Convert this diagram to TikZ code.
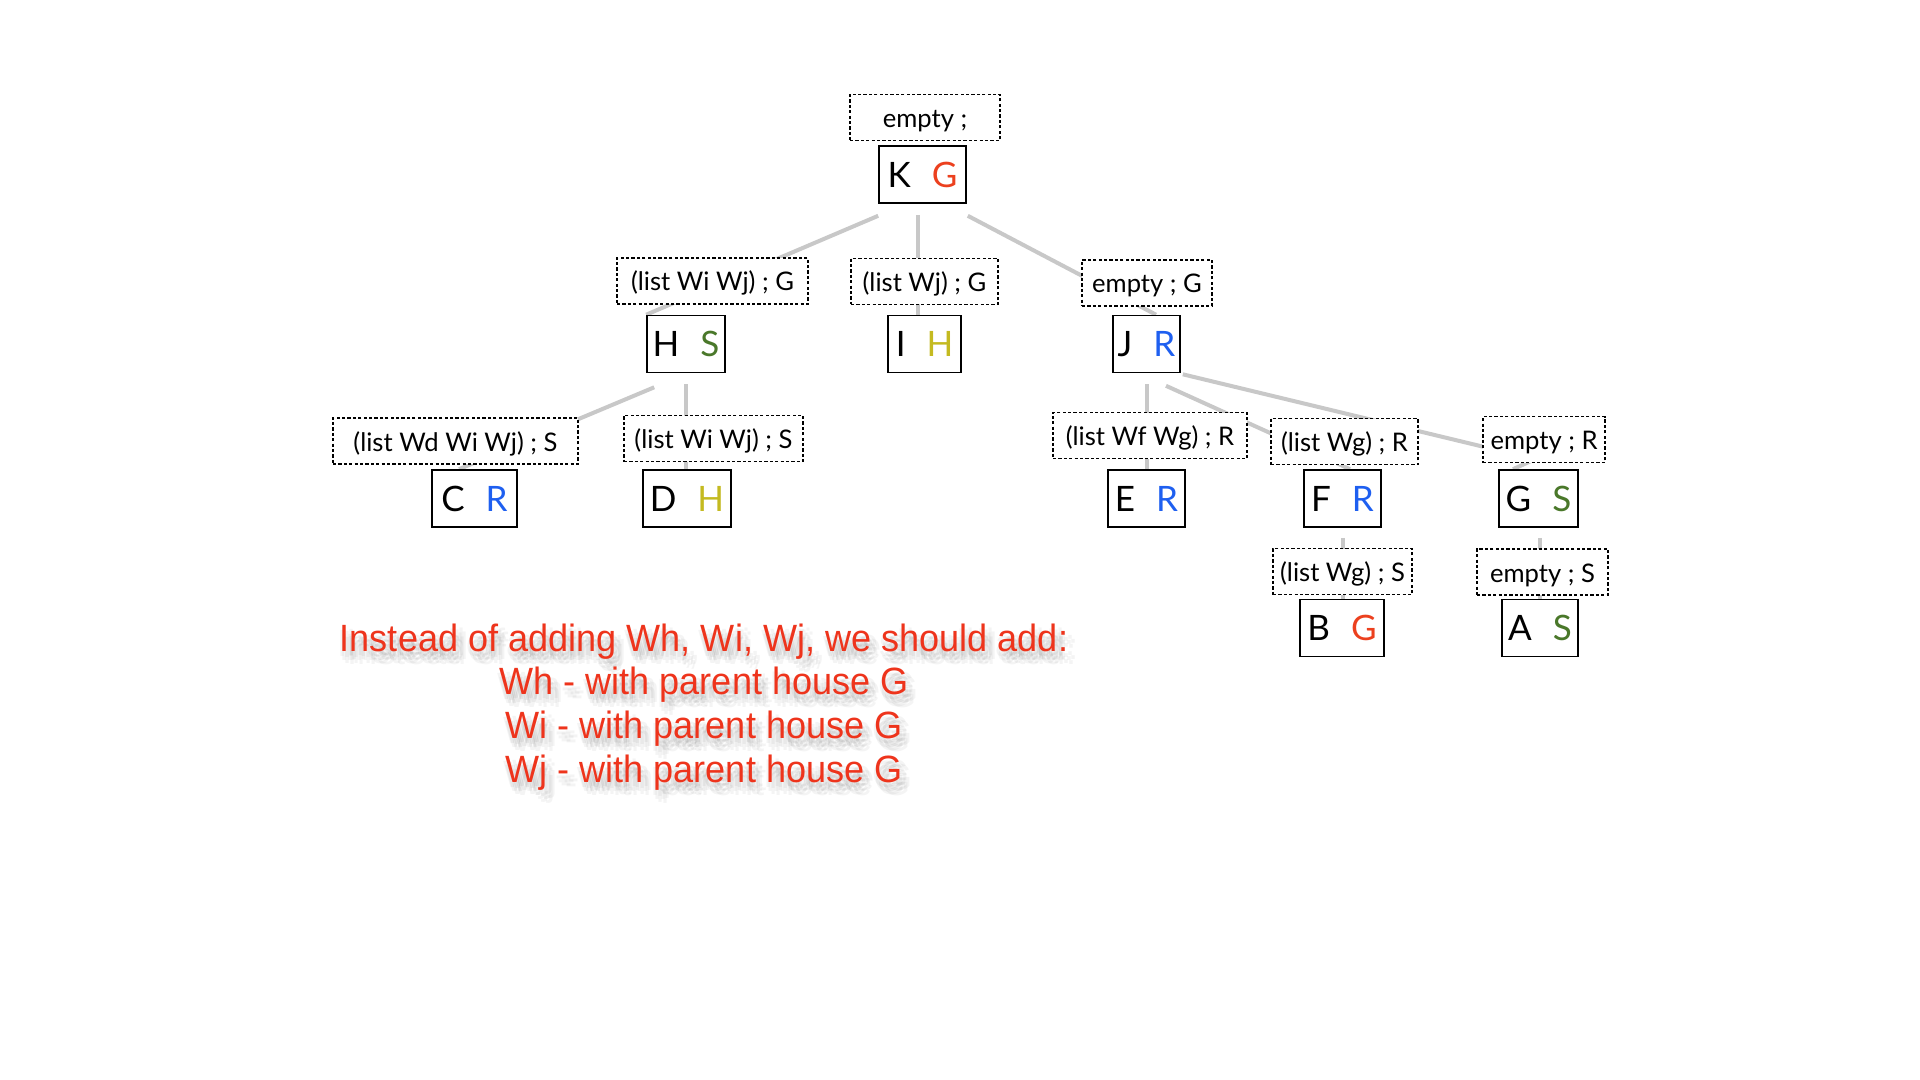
\documentclass[tikz,border=0pt]{standalone}
\usepackage{fontspec}
\usetikzlibrary{calc}
\newfontfamily\labfamily{Lato}
\newfontfamily\notefamily[FakeStretch=0.95]{Liberation Sans}
\definecolor{cRed}{RGB}{236,64,30}
\definecolor{cBlue}{RGB}{30,95,240}
\definecolor{cOlive}{RGB}{196,186,32}
\definecolor{cGreen}{RGB}{74,120,42}
\definecolor{cNote}{RGB}{238,52,28}
\definecolor{edgegray}{RGB}{200,200,200}
\newcommand\hpair[3]{#1\hspace{0.6em}{\color{#2}#3}}
\newcommand\notetext{Instead of adding Wh, Wi, Wj, we should add:\\Wh - with parent house G\\Wi - with parent house G\\Wj - with parent house G}
\pgfdeclarelayer{bg}
\pgfsetlayers{bg,main}
\begin{document}
\begin{tikzpicture}[x=0.5pt,y=-0.5pt,
  lab/.style={draw, dash pattern=on 1.6pt off 1.1pt, line width=0.7pt, fill=white,
    font=\labfamily\fontsize{12.8}{14}\selectfont, inner sep=0pt, minimum height=23pt,
    text height=12pt, text depth=2pt},
  hbox/.style={draw, line width=0.8pt, fill=white,
    font=\labfamily\fontsize{17.5}{19}\selectfont, inner sep=0pt, minimum height=28.5pt},
  edge/.style={draw=edgegray, line width=2pt},
  note/.style={align=center, font=\notefamily\fontsize{19}{21.85}\selectfont, inner sep=0pt},
  shadow/.style={note, text=black, text opacity=0.045}]
\begin{pgfonlayer}{bg}
\useasboundingbox[fill=white] (0,0) rectangle (1920,1080);
\end{pgfonlayer}

% labels
\node[lab,minimum width=75pt]   (LK) at (925,117.5) {empty ;};
\node[lab,minimum width=95.5pt] (LH) at (712.5,281) {(list Wi Wj) ; G};
\node[lab,minimum width=73.5pt] (LI) at (924.5,281.5) {(list Wj) ; G};
\node[lab,minimum width=65pt]   (LJ) at (1147,283) {empty ; G};
\node[lab,minimum width=122.5pt](LC) at (455.5,441) {(list Wd Wi Wj) ; S};
\node[lab,minimum width=89.5pt] (LD) at (713.5,438.5) {(list Wi Wj) ; S};
\node[lab,minimum width=97pt]   (LE) at (1150,435.5) {(list Wf Wg) ; R};
\node[lab,minimum width=73.5pt] (LF) at (1344.5,441.5) {(list Wg) ; R};
\node[lab,minimum width=61pt]   (LG) at (1544,439.5) {empty ; R};
\node[lab,minimum width=69.5pt] (LB) at (1342.5,571.5) {(list Wg) ; S};
\node[lab,minimum width=65.5pt] (LA) at (1542.5,572) {empty ; S};

% houses
\node[hbox,minimum width=43.5pt] (KG) at (922.5,174.5) {\hpair{K}{cRed}{G}};
\node[hbox,minimum width=39pt]   (HS) at (686,344) {\hpair{H}{cGreen}{S}};
\node[hbox,minimum width=36.5pt] (IH) at (924.5,344) {\hpair{I}{cOlive}{H}};
\node[hbox,minimum width=33.5pt] (JR) at (1146.5,344) {\hpair{J}{cBlue}{R}};
\node[hbox,minimum width=42.5pt] (CR) at (474.5,498.5) {\hpair{C}{cBlue}{R}};
\node[hbox,minimum width=44pt]   (DH) at (687,498.5) {\hpair{D}{cOlive}{H}};
\node[hbox,minimum width=38.5pt] (ER) at (1146.5,498.5) {\hpair{E}{cBlue}{R}};
\node[hbox,minimum width=38.5pt] (FR) at (1342.5,498.5) {\hpair{F}{cBlue}{R}};
\node[hbox,minimum width=39.5pt] (GS) at (1538.5,498.5) {\hpair{G}{cGreen}{S}};
\node[hbox,minimum width=42pt]   (BG) at (1342,628) {\hpair{B}{cRed}{G}};
\node[hbox,minimum width=38pt]   (AS) at (1540,628) {\hpair{A}{cGreen}{S}};

% connectors (behind)
\begin{pgfonlayer}{bg}
\draw[edge] ($(KG.south west)+(0,12)$) -- (HS.north west);
\draw[edge] ($(KG.south)+(-4.5,11)$) coordinate (k1) -- (k1 |- IH.north);
\draw[edge] ($(KG.south east)+(1,12)$) -- ($(JR.north)+(9.5,0)$);
\draw[edge] ($(HS.south west)+(8,14)$) -- ($(CR.north)+(-15.5,0)$);
\draw[edge] ($(HS.south)+(0,11)$) coordinate (h1) -- (h1 |- DH.north);
\draw[edge] ($(JR.south)+(0,11)$) -- (ER.north);
\draw[edge] ($(JR.south)+(19.5,12.5)$) -- ($(FR.north)+(7.5,0)$);
\draw[edge] ($(JR.south east)+(2,1)$) -- ($(LG.south)+(-9,-4)$) -- ($(GS.north)+(-25.5,0)$);
\draw[edge] ($(FR.south)+(0,10)$) coordinate (f1) -- (f1 |- BG.north);
\draw[edge] ($(GS.south)+(1.5,10)$) coordinate (g1) -- (g1 |- AS.north);
\end{pgfonlayer}

% note with soft shadow
\foreach \dx/\dy [count=\i] in {3/6,6/9,0/9,7/4,3/12,10/8,-2/5,8/13}{
  \node[shadow] (sh\i) at (704+\dx,707+\dy) {\notetext};
}
\node[note, text=cNote] (note) at (704,707) {\notetext};
\end{tikzpicture}
\end{document}
